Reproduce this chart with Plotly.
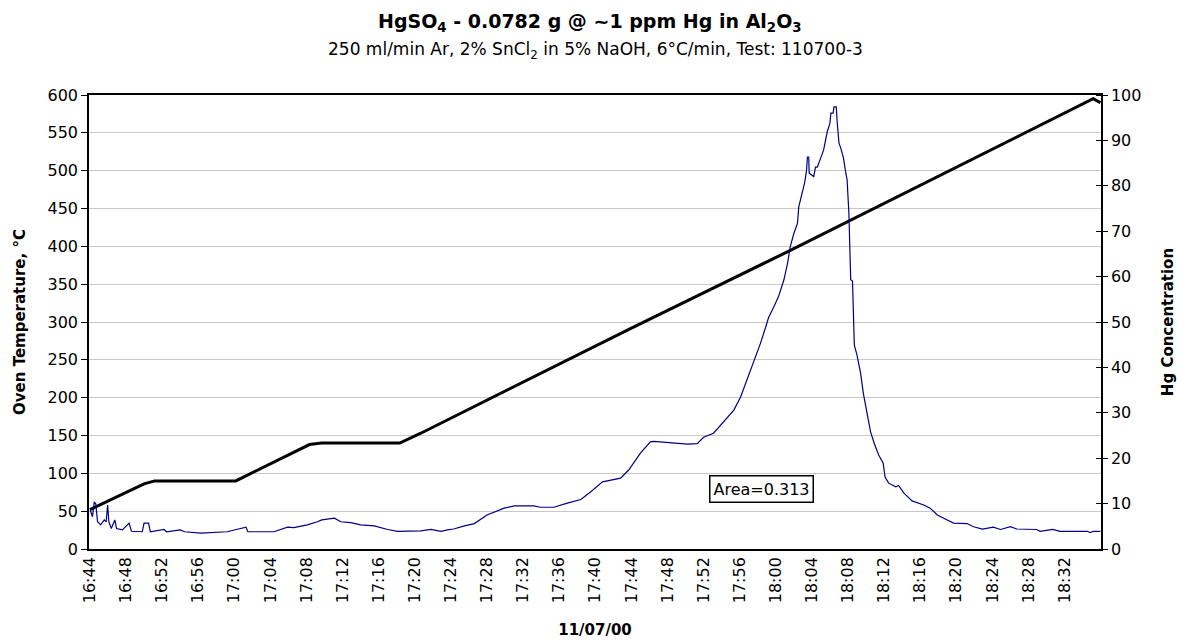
import plotly.graph_objects as go

DATE = "2000-11-07 "

# Oven temperature (left axis, deg C)
temp_times = ["16:44:00", "16:50:00", "16:51:10", "17:00:10", "17:08:20", "17:09:40",
              "17:18:20", "17:20:40", "17:43:50", "18:01:40", "18:35:10", "18:35:58"]
temp_values = [52, 86, 90, 90, 138, 140, 140, 153, 291, 395, 595, 590]

# Hg concentration (right axis)
hg_times = ["16:44:02", "16:44:17", "16:44:29", "16:44:39", "16:44:51", "16:45:12", "16:45:35",
            "16:45:48", "16:45:58", "16:46:06", "16:46:22", "16:46:46", "16:46:57", "16:47:36",
            "16:48:21", "16:48:36", "16:49:48", "16:50:00", "16:50:30", "16:50:42", "16:52:12",
            "16:52:30", "16:54:00", "16:54:30", "16:56:18", "16:59:12", "17:01:18", "17:01:30",
            "17:04:24", "17:05:54", "17:06:36", "17:08:06", "17:09:12", "17:09:42", "17:11:06",
            "17:11:48", "17:12:54", "17:14:00", "17:15:30", "17:17:00", "17:18:06", "17:20:39",
            "17:21:48", "17:22:54", "17:23:36", "17:24:18", "17:25:30", "17:26:36", "17:28:00",
            "17:29:54", "17:31:00", "17:33:12", "17:33:54", "17:35:24", "17:36:54", "17:38:24",
            "17:39:30", "17:40:48", "17:42:48", "17:43:42", "17:45:00", "17:46:06", "17:46:30",
            "17:48:42", "17:50:12", "17:51:18", "17:52:00", "17:53:06", "17:53:54", "17:55:21",
            "17:56:06", "17:56:48", "17:57:36", "17:58:18", "17:58:54", "17:59:12", "17:59:48",
            "18:00:18", "18:00:54", "18:01:18", "18:01:36", "18:02:00", "18:02:24", "18:02:33",
            "18:02:54", "18:03:12", "18:03:24", "18:03:30", "18:03:39", "18:03:42", "18:04:12",
            "18:04:24", "18:04:36", "18:04:57", "18:05:18", "18:05:42", "18:06:00", "18:06:06",
            "18:06:21", "18:06:27", "18:06:42", "18:06:48", "18:07:00", "18:07:12", "18:07:30",
            "18:07:42", "18:07:54", "18:08:06", "18:08:18", "18:08:30", "18:08:36", "18:08:42",
            "18:09:00", "18:09:24", "18:09:42", "18:10:06", "18:10:30", "18:10:54", "18:11:24",
            "18:11:54", "18:12:06", "18:12:30", "18:13:18", "18:13:36", "18:14:12", "18:15:06",
            "18:16:24", "18:17:06", "18:17:54", "18:19:00", "18:19:42", "18:21:12", "18:21:54",
            "18:22:54", "18:24:06", "18:24:54", "18:26:00", "18:26:42", "18:28:54", "18:29:18",
            "18:30:42", "18:31:30", "18:34:30", "18:34:51", "18:35:12", "18:35:58"]
hg_values = [8.6, 7.1, 10.4, 9.9, 6.0, 5.3, 6.4,
             6.0, 9.7, 6.0, 4.5, 6.4, 4.5, 4.2,
             5.7, 3.9, 3.8, 5.7, 5.7, 3.8, 4.3,
             3.8, 4.2, 3.8, 3.5, 3.8, 4.8, 3.8,
             3.8, 4.8, 4.7, 5.3, 6.0, 6.4, 6.8,
             6.0, 5.8, 5.3, 5.1, 4.3, 3.9, 4.0,
             4.3, 3.9, 4.2, 4.4, 5.1, 5.6, 7.5,
             9.0, 9.5, 9.5, 9.2, 9.2, 10.1, 10.9,
             12.6, 14.8, 15.6, 17.4, 21.1, 23.6, 23.7,
             23.4, 23.1, 23.2, 24.6, 25.5, 27.3, 30.6,
             33.5, 37.2, 41.3, 45.3, 49.0, 51.0, 53.4,
             55.6, 59.3, 62.9, 66.6, 69.5, 71.7, 75.4,
             78.3, 80.7, 83.3, 86.3, 86.3, 82.8, 82.0,
             84.1, 84.1, 86.1, 87.9, 91.9, 93.8, 96.0,
             96.0, 97.4, 97.4, 94.1, 89.4, 88.3, 86.1,
             83.5, 81.3, 73.9, 59.3, 59.0, 48.6, 44.9,
             42.7, 38.7, 34.3, 29.9, 25.8, 23.3, 20.7,
             18.9, 15.9, 14.5, 13.7, 14.0, 12.3, 10.6,
             9.7, 9.0, 7.5, 6.4, 5.7, 5.6, 4.9,
             4.4, 4.8, 4.3, 4.9, 4.4, 4.3, 3.9,
             4.3, 3.9, 3.9, 3.6, 3.9, 3.9]

x_tick_labels = ["16:44", "16:48", "16:52", "16:56", "17:00", "17:04", "17:08", "17:12",
                 "17:16", "17:20", "17:24", "17:28", "17:32", "17:36", "17:40", "17:44",
                 "17:48", "17:52", "17:56", "18:00", "18:04", "18:08", "18:12", "18:16",
                 "18:20", "18:24", "18:28", "18:32"]
temp_ticks = list(range(0, 601, 50))
hg_ticks = list(range(0, 101, 10))

title_text = "<b>HgSO<sub>4</sub> - 0.0782 g @ ~1 ppm Hg in Al<sub>2</sub>O<sub>3</sub></b>"
subtitle_text = "250 ml/min Ar, 2% SnCl<sub>2</sub> in 5% NaOH, 6°C/min, Test: 110700-3"
area_text = "Area=0.313"
x_title = "11/07/00"
y_title = "Oven Temperature, °C"
y2_title = "Hg Concentration"

FONT = "DejaVu Sans"

fig = go.Figure()
fig.add_trace(go.Scatter(
    x=[DATE + t for t in hg_times], y=hg_values, yaxis="y2", mode="lines",
    line=dict(color="#000080", width=1.2), showlegend=False, hoverinfo="skip"))
fig.add_trace(go.Scatter(
    x=[DATE + t for t in temp_times], y=temp_values, yaxis="y", mode="lines",
    line=dict(color="black", width=3), showlegend=False, hoverinfo="skip"))
# helper (empty) trace so that inner tick marks on the right axis are drawn
fig.add_trace(go.Scatter(x=[], y=[], yaxis="y3", showlegend=False, hoverinfo="skip"))

fig.update_layout(
    width=1177, height=642,
    margin=dict(l=89, r=76, t=95, b=93, autoexpand=False),
    paper_bgcolor="white", plot_bgcolor="white",
    font=dict(family=FONT, size=16, color="black"),
    xaxis=dict(
        type="date", automargin=False,
        range=[DATE + "16:43:54", DATE + "18:36:02"],
        tickvals=[DATE + t + ":00" for t in x_tick_labels], ticktext=x_tick_labels,
        tickangle=-90, ticks="", showgrid=False,
        showline=True, linecolor="black", linewidth=1.5, mirror=True,
        tickfont=dict(family=FONT, size=16),
        title=dict(text="<b>" + x_title + "</b>", font=dict(family=FONT, size=15), standoff=22),
    ),
    yaxis=dict(
        automargin=False,
        range=[0, 600], tickvals=temp_ticks, ticks="outside", ticklen=6, tickcolor="black",
        showgrid=True, gridcolor="#c8c8c8", gridwidth=1,
        showline=True, linecolor="black", linewidth=1.5, zeroline=False,
        tickfont=dict(family=FONT, size=16),
        title=dict(text="<b>" + y_title + "</b>", font=dict(family=FONT, size=15), standoff=18),
    ),
    yaxis2=dict(
        automargin=False,
        range=[0, 100], tickvals=hg_ticks, overlaying="y", side="right",
        ticks="outside", ticklen=5, tickcolor="black", showgrid=False,
        showline=True, linecolor="black", linewidth=1.5, zeroline=False,
        tickfont=dict(family=FONT, size=16),
        title=dict(text="<b>" + y2_title + "</b>", font=dict(family=FONT, size=15), standoff=24),
    ),
    yaxis3=dict(
        automargin=False,
        range=[0, 100], tickvals=hg_ticks, overlaying="y", side="left",
        anchor="free", position=1.0, ticks="outside", ticklen=5, tickcolor="black",
        showticklabels=False, showgrid=False, showline=False, zeroline=False,
    ),
    annotations=[
        dict(text=title_text, xref="paper", yref="paper", x=0.495, y=1.16,
             xanchor="center", yanchor="middle", showarrow=False,
             font=dict(family=FONT, size=19, color="black")),
        dict(text=subtitle_text, xref="paper", yref="paper", x=0.5, y=1.098,
             xanchor="center", yanchor="middle", showarrow=False,
             font=dict(family=FONT, size=17, color="black")),
        dict(text=area_text, xref="paper", yref="paper", x=0.665, y=0.132,
             xanchor="center", yanchor="middle", showarrow=False,
             font=dict(family=FONT, size=16, color="black"),
             bordercolor="black", borderwidth=1.5, borderpad=3, bgcolor="white"),
    ],
)

fig.write_html("out.html")
